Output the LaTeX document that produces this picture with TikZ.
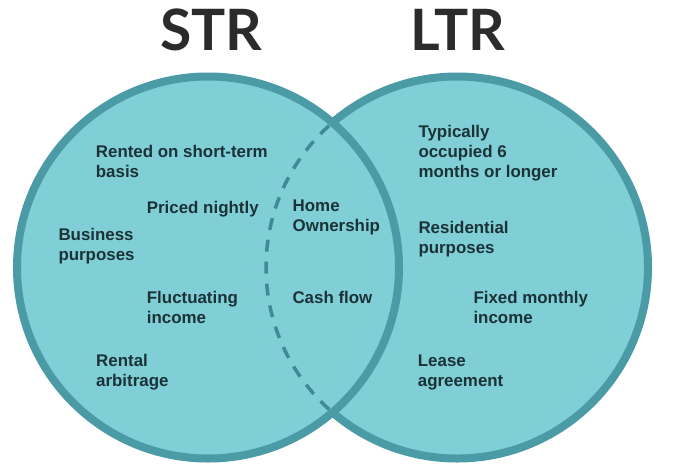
\documentclass[tikz,border=0pt]{standalone}
\usepackage{fontspec}
\setmainfont{Liberation Sans}
\newfontfamily\titlefont{Lato}
\definecolor{fillc}{HTML}{80CFD7}
\definecolor{edgec}{HTML}{4A9BA6}
\definecolor{dashc}{HTML}{3F8A94}
\definecolor{txt}{HTML}{1B3237}
\definecolor{ttl}{HTML}{2B2B2B}
\tikzset{
  setcircle/.style={circle, draw=edgec, fill=fillc, line width=8pt, minimum size=382pt, inner sep=0pt},
  item/.style={anchor=base west, inner sep=0pt, align=left, text=txt,
    font=\bfseries\fontsize{16.9}{20}\selectfont},
  ttlstyle/.style={anchor=base west, inner sep=0pt, text=ttl,
    font=\titlefont\bfseries\fontsize{57}{57}\selectfont}
}
\begin{document}
\begin{tikzpicture}[x=1pt,y=-1pt]
\useasboundingbox (0,0) rectangle (676,475);
\fill[white] (0,0) rectangle (676,475);
\node[setcircle] (R) at (457,267.5) {};
\node[setcircle] (L) at (208,267.5) {};
\begin{scope}
  \clip (208,267.5) circle (187);
  \draw[dashc, line width=3.5pt, dash pattern=on 12pt off 10pt] (457,267.5) circle (191);
\end{scope}
\node[ttlstyle] (str) at (160,50) {STR};
\node[ttlstyle] (ltr) at (410,50) {LTR};
% base anchor of a multi-line node is the baseline of its last line
\node[item] (a1) at (95.7,177.3) {Rented on short-term\\basis};
\node[item] (a2) at (146.7,213.3) {Priced nightly};
\node[item] (a3) at (58.3,260) {Business\\purposes};
\node[item] (a4) at (146.7,323.3) {Fluctuating\\income};
\node[item] (a5) at (96,386.7) {Rental\\arbitrage};
\node[item] (c1) at (292.5,231.7) {Home\\Ownership};
\node[item] (c2) at (292.3,303.3) {Cash flow};
\node[item] (b1) at (418.3,177.3) {Typically\\occupied 6\\months or longer};
\node[item] (b2) at (418.3,253.3) {Residential\\purposes};
\node[item] (b3) at (473.3,323.3) {Fixed monthly\\income};
\node[item] (b4) at (417.7,386.7) {Lease\\agreement};
\end{tikzpicture}
\end{document}
